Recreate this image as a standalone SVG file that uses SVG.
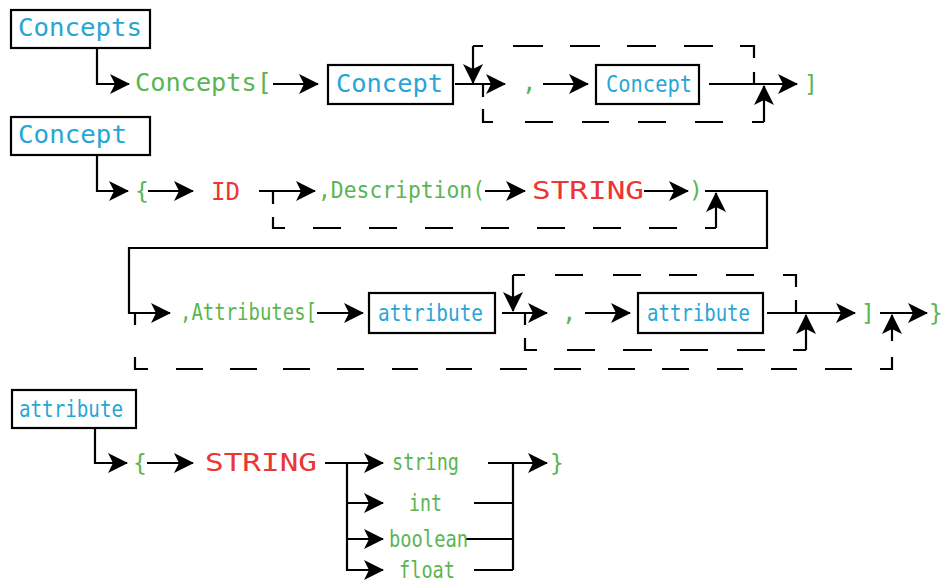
<svg xmlns="http://www.w3.org/2000/svg" width="945" height="583" viewBox="0 0 945 583">
<defs>
<marker id="ah" markerUnits="userSpaceOnUse" viewBox="0 0 20 20" markerWidth="20" markerHeight="20" refX="19" refY="10" orient="auto" overflow="visible">
<path d="M0,0 L20,10 L0,20 L5,10 Z" fill="#000"/>
</marker>
<style>
.ln{fill:none;stroke:#000;stroke-width:2.2}
.ar{marker-end:url(#ah)}
.box{fill:#fff;stroke:#000;stroke-width:2.2}
text{font-family:"DejaVu Sans Mono","Liberation Mono",monospace}
.b{fill:#27a6d6}
.g{fill:#5ab552}
.r{fill:#ec3535}
.w{font-size:24px}
.c{font-size:23px}
</style>
</defs>
<rect width="945" height="583" fill="#fff"/>
<g id="connectors">
<path class="ln ar" d="M97,48 V84 H129"/>
<path class="ln ar" d="M273,84 H318"/>
<path class="ln ar" d="M455,84 H505"/>
<path class="ln ar" d="M473,46 V83"/>
<path class="ln" stroke-dasharray="10 30 30 27 30 27 29 28 29 27 26 14 12 100" d="M473,46 H754 V84"/>
<path class="ln" stroke-dasharray="13 12 23 32 28 29 27 29 28 29 28 29 12 100" d="M483,84 V122 H764"/>
<path class="ln ar" d="M764,122 V86"/>
<path class="ln ar" d="M543,84 H588"/>
<path class="ln ar" d="M709,84 H797"/>

<path class="ln ar" d="M97,155 V191 H128"/>
<path class="ln ar" d="M148,191 H193"/>
<path class="ln ar" d="M259,191 H315"/>
<path class="ln" stroke-dasharray="13 13 23 28 28 28 28 28 28 28 28 28 28 28 28 28 28 28 27 12 100" d="M273,191 V228 H716"/>
<path class="ln ar" d="M716,228 V193"/>
<path class="ln ar" d="M485,191 H525"/>
<path class="ln ar" d="M644,191 H688"/>
<path class="ln ar" d="M705,191 H767 V248 H129 V313 H170"/>

<path class="ln ar" d="M317,313 H363"/>
<path class="ln ar" d="M502,313 H547"/>
<path class="ln ar" d="M513,275 V311"/>
<path class="ln" stroke-dasharray="12 30 28 30 28 28 28 29 28 29 25 13 13 100" d="M513,275 H796 V313"/>
<path class="ln" stroke-dasharray="12 13 24 30 28 28 29 28 28 29 28 28 13 100" d="M525,313 V350 H806"/>
<path class="ln ar" d="M806,350 V315"/>
<path class="ln ar" d="M585,313 H630"/>
<path class="ln ar" d="M767,313 H855"/>
<path class="ln ar" d="M880,313 H927"/>
<path class="ln" stroke-dasharray="12 32 25 28 27 27 27 26 27 27 27 28 26 28 26 28 27 27 27 27 27 27 27 28 26 28 26 28 27 28 24 100" d="M135,313 V369 H892 V345"/>
<path class="ln ar" d="M892,341 V315"/>

<path class="ln ar" d="M95,428 V463 H127"/>
<path class="ln ar" d="M147,463 H193"/>
<path class="ln ar" d="M325,463 H383"/>
<path class="ln ar" d="M347,463 V570 H383"/>
<path class="ln ar" d="M347,503 H383"/>
<path class="ln ar" d="M347,539 H383"/>
<path class="ln ar" d="M488,463 H547"/>
<path class="ln" d="M513,463 V570 M474,503 H513 M466,539 H513 M474,570 H513"/>
</g>

<g id="hdr-concepts"><rect class="box" x="11" y="10" width="139" height="38"/><text class="b w" x="18" y="36" textLength="124" lengthAdjust="spacingAndGlyphs">Concepts</text></g>
<g id="t-concepts-open"><text class="g w" x="135" y="91" textLength="137" lengthAdjust="spacingAndGlyphs">Concepts[</text></g>
<g id="n-concept-1"><rect class="box" x="328" y="65" width="125" height="39"/><text class="b w" x="336" y="92" textLength="107" lengthAdjust="spacingAndGlyphs">Concept</text></g>
<g id="t-comma-1"><text class="g w" x="522" y="91">,</text></g>
<g id="n-concept-2"><rect class="box" x="596" y="65" width="103" height="39"/><text class="b c" x="606" y="92" textLength="86" lengthAdjust="spacingAndGlyphs">Concept</text></g>
<g id="t-close-1"><text class="g c" x="804" y="92">]</text></g>

<g id="hdr-concept"><rect class="box" x="11" y="117" width="139" height="38"/><text class="b w" x="18" y="143" textLength="109" lengthAdjust="spacingAndGlyphs">Concept</text></g>
<g id="t-brace-2"><text class="g c" x="135" y="199">{</text></g>
<g id="t-id"><text class="r w" x="211" y="200" textLength="29" lengthAdjust="spacingAndGlyphs">ID</text></g>
<g id="t-description"><text class="g c" x="318" y="198" textLength="167" lengthAdjust="spacingAndGlyphs">,Description(</text></g>
<g id="t-string-2"><text class="r w" x="532" y="199" textLength="112" lengthAdjust="spacingAndGlyphs">STRING</text></g>
<g id="t-paren-close"><text class="g c" x="689" y="198">)</text></g>

<g id="t-attributes"><text class="g c" x="180" y="320" textLength="137" lengthAdjust="spacingAndGlyphs">,Attributes[</text></g>
<g id="n-attribute-1"><rect class="box" x="369" y="293" width="126" height="40"/><text class="b c" x="378" y="321" textLength="105" lengthAdjust="spacingAndGlyphs">attribute</text></g>
<g id="t-comma-3"><text class="g w" x="562" y="321">,</text></g>
<g id="n-attribute-2"><rect class="box" x="638" y="293" width="125" height="40"/><text class="b c" x="647" y="321" textLength="103" lengthAdjust="spacingAndGlyphs">attribute</text></g>
<g id="t-close-3"><text class="g c" x="861" y="321">]</text></g>
<g id="t-brace-close-3"><text class="g c" x="929" y="321">}</text></g>

<g id="hdr-attribute"><rect class="box" x="12" y="390" width="124" height="38"/><text class="b c" x="19" y="417" textLength="104" lengthAdjust="spacingAndGlyphs">attribute</text></g>
<g id="t-brace-4"><text class="g c" x="133" y="471">{</text></g>
<g id="t-string-4"><text class="r w" x="205" y="471" textLength="112" lengthAdjust="spacingAndGlyphs">STRING</text></g>
<g id="t-type-string"><text class="g c" x="392" y="470" textLength="67" lengthAdjust="spacingAndGlyphs">string</text></g>
<g id="t-type-int"><text class="g c" x="409" y="511" textLength="33" lengthAdjust="spacingAndGlyphs">int</text></g>
<g id="t-type-boolean"><text class="g c" x="389" y="547" textLength="79" lengthAdjust="spacingAndGlyphs">boolean</text></g>
<g id="t-type-float"><text class="g c" x="399" y="578" textLength="56" lengthAdjust="spacingAndGlyphs">float</text></g>
<g id="t-brace-close-4"><text class="g c" x="550" y="471">}</text></g>
</svg>
